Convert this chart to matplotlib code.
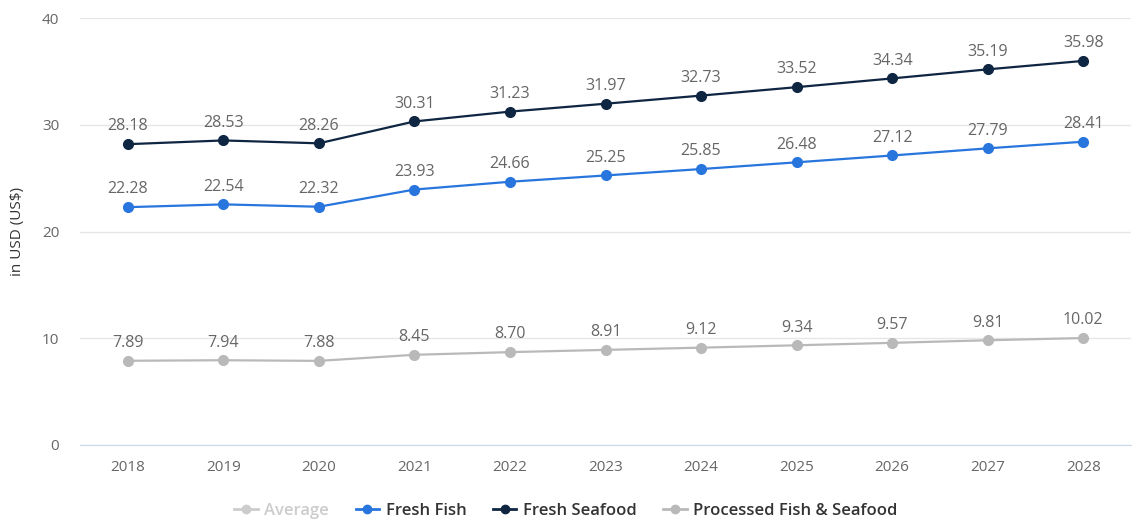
import matplotlib
matplotlib.use("Agg")
import matplotlib.pyplot as plt
from matplotlib.lines import Line2D

plt.rcParams['font.family'] = ['Open Sans', 'DejaVu Sans']

years = [2018, 2019, 2020, 2021, 2022, 2023, 2024, 2025, 2026, 2027, 2028]
fresh_fish = [22.28, 22.54, 22.32, 23.93, 24.66, 25.25, 25.85, 26.48, 27.12, 27.79, 28.41]
fresh_seafood = [28.18, 28.53, 28.26, 30.31, 31.23, 31.97, 32.73, 33.52, 34.34, 35.19, 35.98]
processed = [7.89, 7.94, 7.88, 8.45, 8.70, 8.91, 9.12, 9.34, 9.57, 9.81, 10.02]
y_ticks = [0, 10, 20, 30, 40]
legend_labels = ["Average", "Fresh Fish", "Fresh Seafood", "Processed Fish & Seafood"]

c_fish = "#2876dd"
c_seafood = "#0f2642"
c_proc = "#b9b9b9"
c_avg = "#cccccc"
txt = "#666666"

fig = plt.figure(figsize=(11.32, 5.22), dpi=100)
ax = fig.add_axes([80/1132, 77/522, 1051/1132, 427/522])

for vals, col in [(processed, c_proc), (fresh_fish, c_fish), (fresh_seafood, c_seafood)]:
    ax.plot(years, vals, color=col, lw=1.6, marker='o', ms=7, zorder=3)
    for x, v in zip(years, vals):
        ax.annotate(f"{v:.2f}", (x, v), xytext=(0, 7), textcoords='offset points',
                    ha='center', va='bottom', fontsize=11.5, color=txt, zorder=4)

ax.set_xlim(2017.5, 2028.5)
ax.set_ylim(0, 40)
ax.set_yticks(y_ticks)
ax.set_xticks(years)
ax.set_xticklabels([str(y) for y in years])
ax.grid(axis='y', color='#e6e6e6', lw=1)
ax.set_axisbelow(True)
for s in ['top', 'right', 'left']:
    ax.spines[s].set_visible(False)
ax.spines['bottom'].set_color('#ccd6eb')
ax.tick_params(axis='both', length=0, labelsize=11, labelcolor=txt)
ax.tick_params(axis='x', pad=11)
ax.tick_params(axis='y', pad=15)
ax.set_ylabel("in USD (US$)", fontsize=11, color='#333333', labelpad=12)

handles = [
    Line2D([], [], color=c_avg, lw=2, marker='o', ms=6),
    Line2D([], [], color=c_fish, lw=2, marker='o', ms=6),
    Line2D([], [], color=c_seafood, lw=2, marker='o', ms=6),
    Line2D([], [], color=c_proc, lw=2, marker='o', ms=6),
]
leg = fig.legend(handles, legend_labels, loc='center', bbox_to_anchor=(566/1132, 1 - 511/522),
                 ncol=4, frameon=False, fontsize=12, handlelength=1.4, columnspacing=1.6,
                 handletextpad=0.4)
for i, t in enumerate(leg.get_texts()):
    t.set_color(c_avg if i == 0 else '#333333')
    t.set_fontweight('semibold')

fig.savefig("out.png", dpi=100)
